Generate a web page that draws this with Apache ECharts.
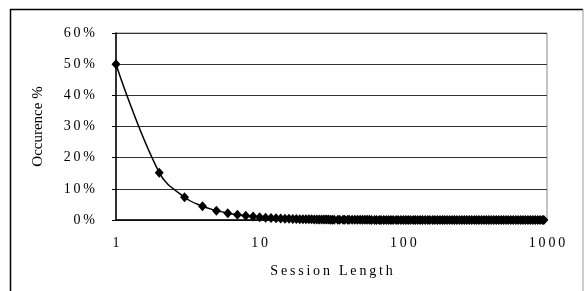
<!DOCTYPE html>
<html>
<head>
<meta charset="utf-8">
<script src="https://cdn.jsdelivr.net/npm/echarts@6/dist/echarts.min.js"></script>
<style>
  html, body { margin: 0; padding: 0; background: #fff; }
  #chart { width: 584px; height: 291px; }
</style>
</head>
<body>
<div id="chart"></div>
<script>
// session length (x, log scale)
var sessionLength = [
  1, 2, 3, 4, 5, 6, 7, 8, 9, 10, 11, 12, 13, 14, 15, 16, 17, 18, 19,
  20, 21, 22, 23, 24, 25, 26, 27, 28, 29, 30,
  31, 32, 33, 35, 36, 38, 39, 41, 42, 44,
  46, 48, 50, 52, 54, 56, 58, 60, 63, 65,
  68, 70, 73, 76, 79, 82, 85, 89, 92, 96,
  100,
  104, 108, 112, 117, 121, 126, 131, 136, 142, 148,
  153, 160, 166, 173, 180, 187, 194, 202, 210, 219,
  227, 236, 246, 256, 266, 276, 287, 299, 311, 323,
  336, 350, 364, 378, 393, 409, 426, 443, 460, 479,
  498, 518, 538, 560, 582, 606, 630, 655, 681, 708,
  737, 766, 797, 829, 862, 896, 932, 950
];
// occurence in percent
var occurence = [
  50, 15.2, 7.3, 4.4, 3.0, 2.2, 1.7, 1.35, 1.1, 0.9, 0.76, 0.65, 0.56, 0.49, 0.43, 0.39, 0.35, 0.31, 0.28,
  0.26, 0.24, 0.22, 0.205, 0.19, 0.175, 0.16, 0.15, 0.14, 0.135, 0.13,
  0.12, 0.115, 0.11, 0.1, 0.095, 0.088, 0.083, 0.077, 0.073, 0.068,
  0.063, 0.058, 0.055, 0.051, 0.048, 0.045, 0.043, 0.04, 0.037, 0.035,
  0.033, 0.031, 0.029, 0.027, 0.025, 0.024, 0.022, 0.021, 0.019, 0.018,
  0.016,
  0.015, 0.014, 0.013, 0.012, 0.012, 0.011, 0.01, 0.01, 0.009, 0.009,
  0.008, 0.008, 0.007, 0.007, 0.006, 0.006, 0.006, 0.005, 0.005, 0.005,
  0.004, 0.004, 0.004, 0.004, 0.003, 0.003, 0.003, 0.003, 0.003, 0.003,
  0.002, 0.002, 0.002, 0.002, 0.002, 0.002, 0.002, 0.002, 0.002, 0.002,
  0.002, 0.002, 0.002, 0.001, 0.001, 0.001, 0.001, 0.001, 0.001, 0.001,
  0.001, 0.001, 0.001, 0.001, 0.001, 0.001, 0.001, 0.001
];
var yTicks = [0, 10, 20, 30, 40, 50, 60];
var xTitle = 'Session Length';
var yTitle = 'Occurence %';

var font = '"Liberation Serif", "Times New Roman", serif';
var thin = '\u2009';
function spaced(s) { return s.split('').join(thin); }

var points = sessionLength.map(function (x, i) { return [x, occurence[i]]; });

var chart = echarts.init(document.getElementById('chart'));
chart.setOption({
  animation: false,
  backgroundColor: '#fff',
  grid: {
    left: 116, right: 37, top: 33, bottom: 71,
    show: true, borderColor: '#888', borderWidth: 1
  },
  xAxis: {
    type: 'log', logBase: 10, min: 1, max: 1000,
    name: spaced(xTitle), nameLocation: 'middle', nameGap: 44,
    nameTextStyle: { fontFamily: font, fontSize: 14, color: '#000' },
    axisLine: { show: true, lineStyle: { color: '#000', width: 1.5 } },
    axisTick: { show: false },
    splitLine: { show: false },
    minorTick: { show: false },
    axisLabel: {
      margin: 16, fontFamily: font, fontSize: 14, color: '#000',
      formatter: function (v) { return spaced(String(v)); }
    }
  },
  yAxis: {
    type: 'value', min: yTicks[0], max: yTicks[yTicks.length - 1], interval: 10,
    name: yTitle, nameLocation: 'middle', nameGap: 70, nameRotate: 90,
    nameTextStyle: { fontFamily: font, fontSize: 15, color: '#000' },
    axisLine: { show: true, lineStyle: { color: '#000', width: 1.5 } },
    axisTick: { show: true, inside: false, length: 4, lineStyle: { color: '#000' } },
    splitLine: { show: true, lineStyle: { color: '#333', width: 1 } },
    axisLabel: {
      margin: 21, fontFamily: font, fontSize: 14, color: '#000',
      formatter: function (v) { return spaced(v + '%'); }
    }
  },
  graphic: [
    { type: 'line', shape: { x1: 10, y1: 9.5, x2: 583, y2: 9.5 }, style: { stroke: '#000', lineWidth: 1.5 } },
    { type: 'line', shape: { x1: 10.5, y1: 9, x2: 10.5, y2: 291 }, style: { stroke: '#000', lineWidth: 1.5 } },
    { type: 'line', shape: { x1: 583, y1: 9, x2: 583, y2: 291 }, style: { stroke: '#999', lineWidth: 1 } }
  ],
  series: [{
    type: 'line',
    data: points,
    smooth: 0.4,
    symbol: 'diamond',
    symbolSize: [9, 10],
    showAllSymbol: true,
    itemStyle: { color: '#000' },
    lineStyle: { color: '#000', width: 1.5 }
  }]
});
</script>
</body>
</html>
